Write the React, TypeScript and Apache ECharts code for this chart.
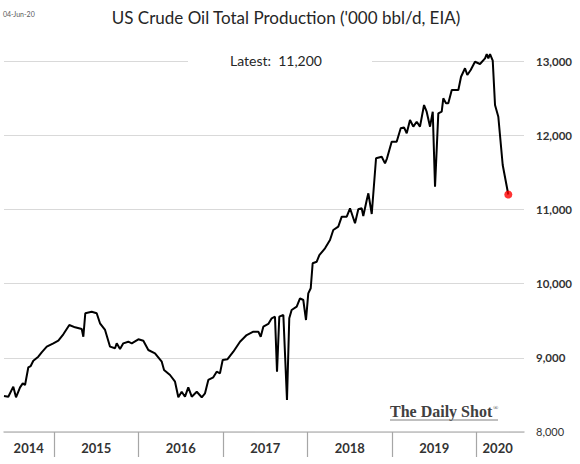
import React, { useEffect, useRef } from "react";
import * as echarts from "echarts";

// Fractional year of each weekly reading
const years = [
  2014.408, 2014.459, 2014.518, 2014.55, 2014.598, 2014.63, 2014.657, 2014.696, 2014.724, 2014.755,
  2014.814, 2014.854, 2014.914, 2014.992, 2015.051, 2015.11, 2015.181, 2015.249, 2015.328, 2015.347,
  2015.37, 2015.446, 2015.505, 2015.544, 2015.604, 2015.663, 2015.722, 2015.742, 2015.781, 2015.82,
  2015.879, 2015.92, 2015.998, 2016.057, 2016.116, 2016.195, 2016.275, 2016.302, 2016.373, 2016.432,
  2016.471, 2016.511, 2016.55, 2016.589, 2016.63, 2016.689, 2016.748, 2016.787, 2016.826, 2016.885,
  2016.925, 2016.964, 2016.996, 2017.051, 2017.122, 2017.201, 2017.28, 2017.359, 2017.418, 2017.446,
  2017.477, 2017.536, 2017.576, 2017.615, 2017.639, 2017.666, 2017.714, 2017.757, 2017.784, 2017.812,
  2017.872, 2017.911, 2017.95, 2017.982, 2018.009, 2018.038, 2018.061, 2018.109, 2018.14, 2018.207,
  2018.266, 2018.305, 2018.364, 2018.405, 2018.464, 2018.503, 2018.562, 2018.601, 2018.641, 2018.66,
  2018.701, 2018.72, 2018.76, 2018.811, 2018.878, 2018.917, 2018.941, 2018.996, 2019.055, 2019.103,
  2019.142, 2019.174, 2019.213, 2019.252, 2019.292, 2019.331, 2019.379, 2019.41, 2019.45, 2019.482,
  2019.509, 2019.548, 2019.588, 2019.607, 2019.639, 2019.666, 2019.707, 2019.785, 2019.817, 2019.864,
  2019.891, 2019.931, 2019.982, 2020.041, 2020.101, 2020.121, 2020.14, 2020.16, 2020.192, 2020.219,
  2020.258, 2020.31, 2020.376,
];

// Production, '000 bbl/d
const production = [
  8485, 8476, 8611, 8468, 8602, 8656, 8633, 8872, 8889, 8961,
  9015, 9074, 9150, 9195, 9230, 9317, 9442, 9411, 9388, 9284,
  9600, 9621, 9600, 9465, 9375, 9150, 9128, 9195, 9119, 9195,
  9217, 9195, 9249, 9230, 9105, 9061, 8947, 8836, 8768, 8678,
  8468, 8543, 8476, 8602, 8476, 8543, 8468, 8522, 8701, 8737,
  8813, 8791, 8970, 8980, 9082, 9217, 9307, 9352, 9352, 9284,
  9419, 9456, 9532, 9554, 8813, 9554, 9577, 8431, 9532, 9644,
  9689, 9802, 9779, 9509, 9869, 9937, 10274, 10295, 10385, 10476,
  10588, 10722, 10767, 10902, 10902, 11015, 10813, 11001, 11015, 10911,
  11127, 11217, 10938, 11689, 11710, 11621, 11689, 11912, 11912, 12093,
  12106, 12026, 12205, 12115, 12182, 12115, 12407, 12317, 12115, 12317,
  11306, 12295, 12317, 12497, 12430, 12430, 12609, 12609, 12788, 12902,
  12811, 12879, 12990, 12960, 13036, 13094, 13036, 13094, 13004, 12407,
  12249, 11598, 11200,
];

const yearTicks = [2015, 2016, 2017, 2018, 2019, 2020];
const yearLabelPositions = [2014.7, 2015.5, 2016.5, 2017.5, 2018.5, 2019.5, 2020.25];
const yTicks = [8000, 9000, 10000, 11000, 12000, 13000];

const titleText = "US Crude Oil Total Production ('000 bbl/d, EIA)";
const dateText = "04-Jun-20";
const latestValue = production[production.length - 1];

export default function App() {
  const ref = useRef<HTMLDivElement>(null);

  useEffect(() => {
    if (!ref.current) return;
    const chart = echarts.init(ref.current, null, { renderer: "svg" });
    const data = years.map((y, i) => [y, production[i]]);
    const last = data[data.length - 1];
    const font = "Lato, 'Open Sans', sans-serif";

    chart.setOption({
      animation: false,
      backgroundColor: "#ffffff",
      grid: { left: 4, right: 56, top: 61, bottom: 32, containLabel: false },
      xAxis: {
        type: "value",
        min: 2014.408,
        max: 2020.562,
        splitLine: { show: false },
        axisLine: { show: true, lineStyle: { color: "#bfbfbf", width: 1.5 } },
        axisTick: {
          show: true,
          customValues: yearTicks,
          length: 25,
          lineStyle: { color: "#a6a6a6", width: 1.2 },
        },
        axisLabel: {
          customValues: yearLabelPositions,
          formatter: (v: number) => String(Math.floor(v)),
          fontFamily: font,
          fontWeight: "bold",
          fontSize: 13,
          color: "#333333",
          margin: 9,
        },
      },
      yAxis: {
        type: "value",
        position: "right",
        min: 8000,
        max: 13000,
        interval: 1000,
        axisLine: { show: false },
        axisTick: { show: false },
        splitLine: { show: true, lineStyle: { color: "#d9d9d9", width: 1 } },
        axisLabel: {
          margin: 12,
          fontFamily: font,
          fontSize: 11.5,
          fontWeight: "bold",
          color: "#333333",
          formatter: (v: number) =>
            v === yTicks[0]
              ? "{n|" + v.toLocaleString("en-US") + "}"
              : v.toLocaleString("en-US"),
          rich: {
            n: { fontFamily: font, fontSize: 11, fontWeight: "normal", color: "#333333", padding: [0, 0, 2, 0] },
          },
        },
      },
      series: [
        {
          type: "line",
          data,
          showSymbol: false,
          clip: false,
          lineStyle: { color: "#000000", width: 2 },
          z: 3,
        },
        {
          type: "scatter",
          data: [last],
          symbolSize: 8,
          itemStyle: { color: "#ff0000" },
          z: 4,
        },
      ],
      graphic: [
        {
          type: "text",
          x: 3,
          y: 10,
          z: 100,
          style: { text: dateText, fontFamily: font, fontSize: 7, fill: "#595959" },
        },
        {
          type: "text",
          x: 286,
          y: 17,
          z: 100,
          style: {
            text: titleText,
            fontFamily: font,
            fontSize: 17,
            fill: "#262626",
            textAlign: "center",
            textVerticalAlign: "middle",
          },
        },
        {
          type: "rect",
          z: 100,
          shape: { x: 188, y: 50, width: 184, height: 22 },
          style: { fill: "#ffffff" },
        },
        {
          type: "text",
          x: 276,
          y: 60,
          z: 101,
          style: {
            text: "Latest:  " + latestValue.toLocaleString("en-US"),
            fontFamily: font,
            fontSize: 14,
            fill: "#262626",
            textAlign: "center",
            textVerticalAlign: "middle",
          },
        },
        {
          type: "text",
          x: 390,
          y: 403,
          z: 100,
          style: {
            text: "The Daily Shot",
            fontFamily: "'Liberation Serif', 'DejaVu Serif', serif",
            fontSize: 16,
            fontWeight: "bold",
            fill: "#404040",
          },
        },
        {
          type: "text",
          x: 493,
          y: 404,
          z: 100,
          style: {
            text: "®",
            fontFamily: "'Liberation Serif', serif",
            fontSize: 7,
            fill: "#404040",
          },
        },
        {
          type: "line",
          z: 100,
          shape: { x1: 390, y1: 420, x2: 498, y2: 420 },
          style: { stroke: "#808080", lineWidth: 1 },
        },
      ],
    });

    return () => chart.dispose();
  }, []);

  return (
    <div
      ref={ref}
      style={{ position: "absolute", left: 0, top: 0, width: 580, height: 464 }}
    />
  );
}
